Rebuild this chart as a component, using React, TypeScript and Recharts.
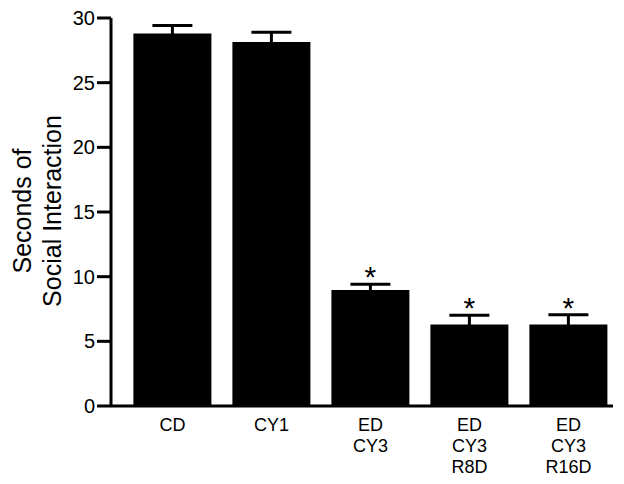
import { BarChart, Bar, XAxis, YAxis, ErrorBar, LabelList } from "recharts";

const groups = ["CD", "CY1", "ED\nCY3", "ED\nCY3\nR8D", "ED\nCY3\nR16D"];
const seconds = [28.8, 28.15, 8.97, 6.3, 6.3];
const sem = [0.62, 0.75, 0.45, 0.72, 0.75];
const marked = [false, false, true, true, true];
const yTicks = [0, 5, 10, 15, 20, 25, 30];

const data = groups.map((g, i) => ({
  group: g,
  seconds: seconds[i],
  sem: sem[i],
  mark: marked[i] ? "*" : "",
}));

const font = "'Liberation Sans', Arial, Helvetica, sans-serif";

function GroupTick(props: any) {
  const { x, y, payload } = props;
  const lines = String(payload.value).split("\n");
  return (
    <text x={x} y={y} textAnchor="middle" fontFamily={font} fontSize={18} fill="#000">
      {lines.map((l, i) => (
        <tspan key={i} x={x} dy={i === 0 ? 17 : 21}>
          {l}
        </tspan>
      ))}
    </text>
  );
}

function Star(props: any) {
  const { x, y, width, height, value, index } = props;
  if (!value) return null;
  const perUnit = height / seconds[index];
  const top = y - sem[index] * perUnit;
  return (
    <text x={x + width / 2} y={top + 3} textAnchor="middle" fontFamily={font} fontSize={30} fill="#000">
      {value}
    </text>
  );
}

function YTitle() {
  return (
    <text transform="translate(0,211) rotate(-90)" textAnchor="middle" fontFamily={font} fontSize={25} fill="#000">
      <tspan x={0} y={31}>Seconds of</tspan>
      <tspan x={0} y={61}>Social Interaction</tspan>
    </text>
  );
}

export default function App() {
  return (
    <div style={{ position: "absolute", left: 0, top: 0, background: "#fff" }}>
      <BarChart
        width={624}
        height={484}
        data={data}
        margin={{ top: 18, right: 11, left: 0, bottom: 0 }}
        barCategoryGap="10.5%"
      >
        <XAxis
          dataKey="group"
          height={78}
          padding={{ left: 12, right: -5 }}
          tickLine={false}
          axisLine={{ stroke: "#000", strokeWidth: 3 }}
          tick={<GroupTick />}
          interval={0}
        />
        <YAxis
          width={111}
          domain={[0, 30]}
          ticks={yTicks}
          tickSize={14}
          tickMargin={2}
          tickLine={{ stroke: "#000", strokeWidth: 3 }}
          axisLine={{ stroke: "#000", strokeWidth: 3 }}
          tick={{ fill: "#000", fontSize: 20, fontFamily: font }}
          label={<YTitle />}
        />
        <Bar dataKey="seconds" fill="#000" isAnimationActive={false}>
          <ErrorBar dataKey="sem" direction="y" width={20} stroke="#000" strokeWidth={3} />
          <LabelList dataKey="mark" content={<Star />} />
        </Bar>
      </BarChart>
    </div>
  );
}
